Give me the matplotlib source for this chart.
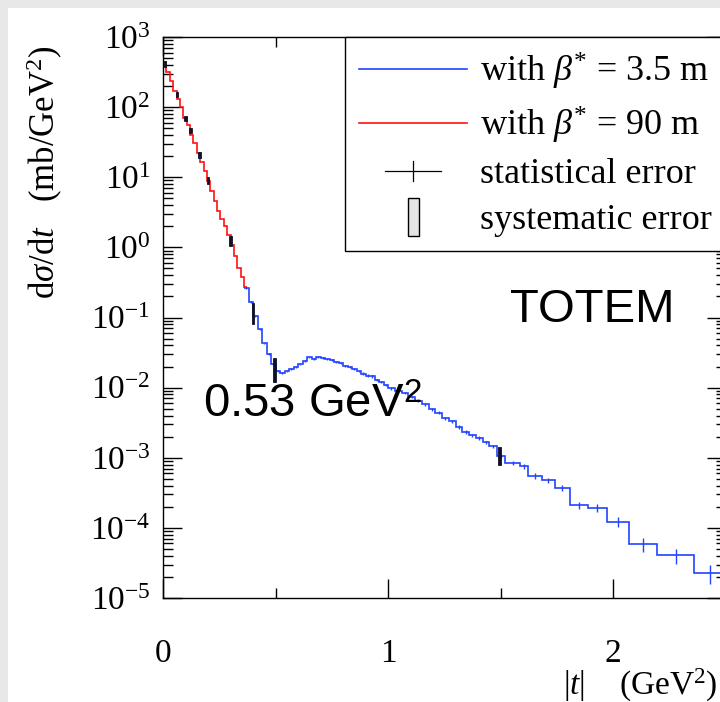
import numpy as np
import matplotlib
matplotlib.use("Agg")
import matplotlib.pyplot as plt
from matplotlib.lines import Line2D
from matplotlib.patches import Rectangle
from matplotlib.legend_handler import HandlerBase
from matplotlib.ticker import LogLocator, MultipleLocator, NullFormatter, LogFormatterMathtext

plt.rcParams["font.family"] = ["Liberation Serif", "DejaVu Serif"]
plt.rcParams["mathtext.fontset"] = "custom"
plt.rcParams["mathtext.rm"] = "Liberation Serif"
plt.rcParams["mathtext.it"] = "Liberation Serif:italic"
plt.rcParams["mathtext.bf"] = "Liberation Serif:bold"
plt.rcParams["mathtext.sf"] = "Liberation Sans"

# beta* = 90 m (red), fine bins
red_edges = [0.005, 0.015, 0.030, 0.045, 0.060, 0.075, 0.090, 0.105, 0.120, 0.135,
             0.150, 0.165, 0.180, 0.195, 0.210, 0.225, 0.240, 0.255, 0.270, 0.285,
             0.300, 0.315, 0.330, 0.345, 0.360, 0.375]
red_vals = [436, 316, 234, 170, 129, 100, 70.8, 55.0, 39.8, 30.9,
            22.4, 16.6, 12.3, 8.91, 6.31, 4.57, 3.31, 2.51, 2.00, 1.48,
            1.07, 0.759, 0.513, 0.380, 0.275]

# beta* = 3.5 m (blue)
blue_edges = [0.36, 0.38, 0.40, 0.42, 0.44, 0.46, 0.48, 0.50, 0.52, 0.54,
              0.56, 0.58, 0.60, 0.62, 0.64, 0.66, 0.68, 0.70, 0.72, 0.74,
              0.76, 0.78, 0.80, 0.82, 0.84, 0.86, 0.88, 0.90, 0.92, 0.94,
              0.96, 0.98, 1.00, 1.03, 1.06, 1.09, 1.12, 1.15, 1.18, 1.21,
              1.24, 1.27, 1.30, 1.33, 1.36, 1.39, 1.42, 1.45, 1.484, 1.520,
              1.587, 1.622, 1.684, 1.742, 1.809, 1.889, 1.973, 2.071, 2.196, 2.36,
              2.5]
blue_vals = [0.263, 0.166, 0.105, 0.0676, 0.0427, 0.0302, 0.0219, 0.0174, 0.0162, 0.0170,
             0.0182, 0.0195, 0.0214, 0.0240, 0.0269, 0.0257, 0.0275, 0.0263, 0.0257, 0.0245,
             0.0234, 0.0224, 0.0204, 0.0195, 0.0182, 0.0170, 0.0158, 0.0148, 0.0145, 0.0129,
             0.0120, 0.0110, 0.00977, 0.00891, 0.00832, 0.00741, 0.00646, 0.00575, 0.00490, 0.00437,
             0.00363, 0.00331, 0.00275, 0.00234, 0.00209, 0.00191, 0.00166, 0.00145, 0.00105, 0.000845,
             0.000759, 0.000547, 0.000479, 0.000372, 0.000211, 0.000191, 0.000122, 5.85e-5, 4.07e-5, 2.28e-5]
blue_rel_err = [0.02, 0.02, 0.02, 0.02, 0.03, 0.03, 0.03, 0.03, 0.03, 0.03,
                0.03, 0.03, 0.03, 0.03, 0.03, 0.03, 0.03, 0.03, 0.03, 0.03,
                0.03, 0.03, 0.03, 0.03, 0.03, 0.03, 0.04, 0.04, 0.04, 0.04,
                0.04, 0.04, 0.04, 0.04, 0.04, 0.04, 0.05, 0.05, 0.05, 0.05,
                0.05, 0.05, 0.05, 0.06, 0.06, 0.06, 0.06, 0.06, 0.07, 0.08,
                0.08, 0.09, 0.09, 0.10, 0.12, 0.13, 0.16, 0.22, 0.24, 0.30]

# systematic error bands: |t|, low, high
sys_t = [0.009, 0.062, 0.099, 0.121, 0.161, 0.200, 0.301, 0.400, 0.495, 1.495]
sys_lo = [373, 139, 63.4, 42.7, 18.8, 8.0, 1.04, 0.0805, 0.0120, 0.000783]
sys_hi = [455, 164, 74.6, 50.3, 22.9, 10.1, 1.45, 0.160, 0.0264, 0.00142]

BLUE = "#2244ff"
RED = "#ff1010"


class StatHandler(HandlerBase):
    def create_artists(self, legend, orig_handle, xdescent, ydescent, width, height, fontsize, trans):
        cx = width / 2 - xdescent
        cy = height / 2 - ydescent
        h = Line2D([cx - 0.26 * width, cx + 0.26 * width], [cy, cy], color="black", lw=0.9, transform=trans)
        v = Line2D([cx, cx], [cy - 0.4 * height, cy + 0.4 * height], color="black", lw=0.9, transform=trans)
        return [h, v]


class SysHandler(HandlerBase):
    def create_artists(self, legend, orig_handle, xdescent, ydescent, width, height, fontsize, trans):
        cx = width / 2 - xdescent
        cy = height / 2 - ydescent
        r = Rectangle((cx - 4, cy - 0.75 * height), 8, 1.5 * height, facecolor="#e4e4e4",
                      edgecolor="black", lw=1.0, transform=trans)
        return [r]


fig = plt.figure(figsize=(7.2, 7.02), dpi=100, facecolor="#e8e8e8")
fig.patches.append(Rectangle((8 / 720, 0), 1, 1 - 8 / 702, transform=fig.transFigure,
                             facecolor="white", edgecolor="none", zorder=-10))

ax = fig.add_axes([163 / 720, 1 - 598 / 702, 562.5 / 720, 561 / 702])
ax.set_yscale("log")

ax.stairs(red_vals, red_edges, color=RED, lw=1.2, baseline=None, zorder=3)
ax.stairs(blue_vals, blue_edges, color=BLUE, lw=1.2, baseline=None, zorder=3)

be = np.array(blue_edges)
bv = np.array(blue_vals)
centers = 0.5 * (be[:-1] + be[1:])
ax.errorbar(centers, bv, yerr=bv * np.array(blue_rel_err), fmt="none",
            ecolor=BLUE, elinewidth=1.0, capsize=0, zorder=3)

lo = np.array(sys_lo)
hi = np.array(sys_hi)
ax.bar(sys_t, hi - lo, bottom=lo, width=0.012, color="#101028", edgecolor="#101028", lw=0.6, zorder=4)

ax.set_xlim(0, 2.5)
ax.set_ylim(1e-5, 1e3)

ax.xaxis.set_major_locator(MultipleLocator(1))
ax.xaxis.set_minor_locator(MultipleLocator(0.5))
ax.yaxis.set_major_locator(LogLocator(base=10, numticks=20))
ax.yaxis.set_minor_locator(LogLocator(base=10, subs=np.arange(2, 10), numticks=100))
ax.yaxis.set_major_formatter(LogFormatterMathtext())
ax.yaxis.set_minor_formatter(NullFormatter())

ax.tick_params(which="both", direction="in", top=True, right=True, width=1.0, labelsize=24)
ax.tick_params(which="major", length=14)
ax.tick_params(which="minor", length=7)
ax.tick_params(axis="x", which="major", pad=29)
ax.tick_params(axis="y", which="major", pad=9)
for s in ax.spines.values():
    s.set_linewidth(1.0)

labels = [r"with $\beta^{*}$ = 3.5 m", r"with $\beta^{*}$ = 90 m", "statistical error", "systematic error"]
stat_h = Line2D([], [])
sys_h = Rectangle((0, 0), 1, 1)
leg = ax.legend([Line2D([], [], color=BLUE, lw=1.2), Line2D([], [], color=RED, lw=1.2), stat_h, sys_h],
                labels, loc="upper right", bbox_to_anchor=(1.0, 1.0), borderaxespad=0,
                fontsize=26, handlelength=3.0, handletextpad=0.35, labelspacing=0.35,
                borderpad=0.38, fancybox=False, framealpha=1, edgecolor="black",
                handler_map={stat_h: StatHandler(), sys_h: SysHandler()})
leg.get_frame().set_linewidth(1.0)
leg.set_zorder(5)

ax.text(0.763, 0.513, "TOTEM", transform=ax.transAxes, fontsize=34, family="Liberation Sans",
        ha="center", va="center")
ax.text(0.071, 0.344, r"0.53 GeV$^{\mathsf{2}}$", transform=ax.transAxes, fontsize=34,
        family="Liberation Sans", ha="left", va="center")

fig.text(45 / 720, 1 - 172 / 702, r"d$\sigma$/d$t$   (mb/GeV$^{2}$)", rotation=90,
         ha="center", va="center", fontsize=25)
fig.text(718 / 720, 1 - 685 / 702, r"$|t|$    (GeV$^{2}$)", ha="right", va="center", fontsize=24)

fig.savefig("out.png", dpi=100, facecolor=fig.get_facecolor())
